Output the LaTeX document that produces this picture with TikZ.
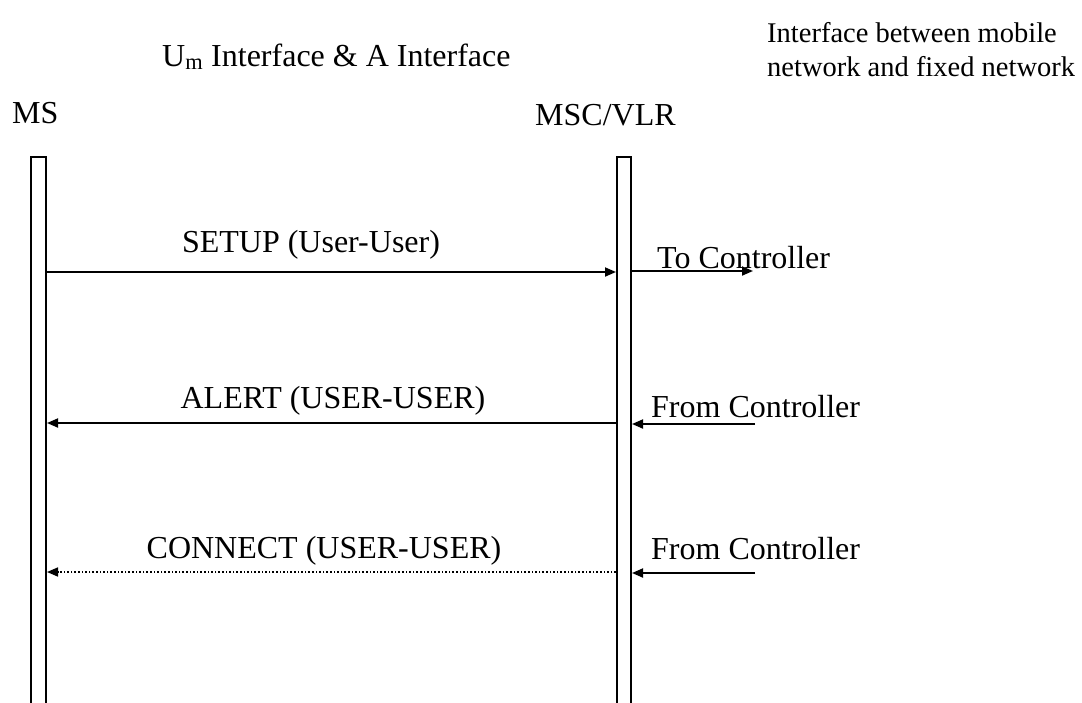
\documentclass[tikz,border=0pt]{standalone}
\usepackage{fontspec}
\setmainfont{Liberation Serif}
\usetikzlibrary{arrows.meta}
\begin{document}
\begin{tikzpicture}[x=1pt,y=-1pt,
  lbl/.style={inner sep=0pt,font=\fontsize{32}{36}\selectfont},
  small/.style={inner sep=0pt,font=\fontsize{28.5}{33}\selectfont},
  life/.style={draw,line width=2pt,fill=white},
  msg/.style={line width=1.8pt,-{Triangle[length=11pt,width=9pt]}},
  dmsg/.style={line width=1.6pt,dotted,-{Triangle[length=11pt,width=9pt]}}]
\useasboundingbox (0,0) rectangle (1082,702);
% lifelines
\draw[life] (31,712) -- (31,157) -- (46,157) -- (46,712);
\draw[life] (617,712) -- (617,157) -- (631,157) -- (631,712);
\coordinate (msR1) at (47,272);
\coordinate (mscL1) at (616,272);
\coordinate (mscR1) at (632,271);
\coordinate (toC) at (753,271);
\coordinate (msR2) at (47,423);
\coordinate (mscL2) at (616,423);
\coordinate (mscR2) at (632,424);
\coordinate (fromC1) at (755,424);
\coordinate (msR3) at (47,572);
\coordinate (mscL3) at (616,572);
\coordinate (mscR3) at (632,573);
\coordinate (fromC2) at (755,573);
% texts
\node[lbl,anchor=base west] (um) at (162,66) {U\textsubscript{m} Interface \& A Interface};
\node[lbl,anchor=base west] (ms) at (12,123) {MS};
\node[lbl,anchor=base west] (msc) at (535,125) {MSC/VLR};
\node[small,anchor=base west] (ifc) at (767,42) {Interface between mobile};
\node[small,anchor=base west] (ifc2) at (767,76) {network and fixed network};
\node[lbl,anchor=base] (setup) at (311,252) {SETUP (User-User)};
\node[lbl,anchor=base] (alert) at (333,408) {ALERT (USER-USER)};
\node[lbl,anchor=base] (conn) at (324,558) {CONNECT (USER-USER)};
\node[lbl,anchor=base west] (toctl) at (657,268) {To Controller};
\node[lbl,anchor=base west] (fc1) at (651,417) {From Controller};
\node[lbl,anchor=base west] (fc2) at (651,559) {From Controller};
% messages
\draw[msg] (msR1) -- (mscL1);
\draw[msg] (mscR1) -- (toC);
\draw[msg] (mscL2) -- (msR2);
\draw[msg] (fromC1) -- (mscR2);
\draw[dmsg] (mscL3) -- (msR3);
\draw[msg] (fromC2) -- (mscR3);
\end{tikzpicture}
\end{document}
